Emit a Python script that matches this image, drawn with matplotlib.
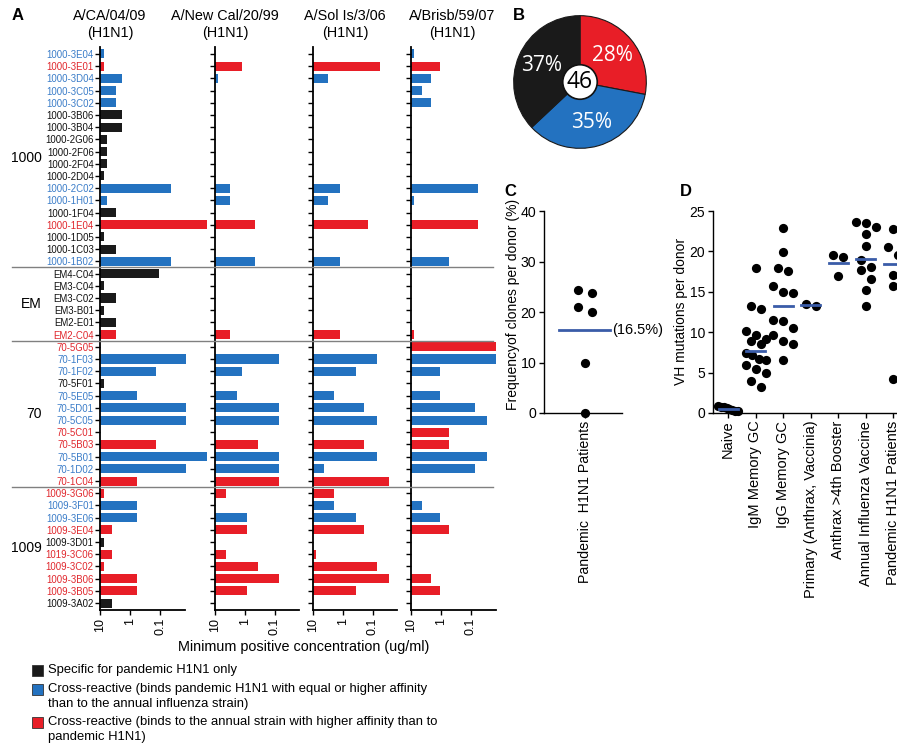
import matplotlib
matplotlib.use('Agg')
import matplotlib.pyplot as plt
import numpy as np
from matplotlib.patches import Rectangle, Circle
from matplotlib.lines import Line2D
from matplotlib.transforms import blended_transform_factory
from matplotlib.ticker import NullLocator

plt.rcParams['font.family'] = ['Liberation Sans', 'DejaVu Sans']

# ---------------- data ----------------
clones = ['1000-3E04', '1000-3E01', '1000-3D04', '1000-3C05', '1000-3C02', '1000-3B06', '1000-3B04',
          '1000-2G06', '1000-2F06', '1000-2F04', '1000-2D04', '1000-2C02', '1000-1H01', '1000-1F04',
          '1000-1E04', '1000-1D05', '1000-1C03', '1000-1B02',
          'EM4-C04', 'EM3-C04', 'EM3-C02', 'EM3-B01', 'EM2-E01', 'EM2-C04',
          '70-5G05', '70-1F03', '70-1F02', '70-5F01', '70-5E05', '70-5D01', '70-5C05', '70-5C01',
          '70-5B03', '70-5B01', '70-1D02', '70-1C04',
          '1009-3G06', '1009-3F01', '1009-3E06', '1009-3E04', '1009-3D01', '1019-3C06', '1009-3C02',
          '1009-3B06', '1009-3B05', '1009-3A02']
clone_class = ['B', 'R', 'B', 'B', 'B', 'K', 'K', 'K', 'K', 'K', 'K', 'B', 'B', 'K', 'R', 'K', 'K', 'B',
               'K', 'K', 'K', 'K', 'K', 'R',
               'R', 'B', 'B', 'K', 'B', 'B', 'B', 'R', 'R', 'B', 'B', 'R',
               'R', 'B', 'B', 'R', 'K', 'R', 'R', 'R', 'R', 'K']
groups = ['1000', 'EM', '70', '1009']
group_sizes = [18, 6, 12, 10]
strains = [('A/CA/04/09', '(H1N1)'), ('A/New Cal/20/99', '(H1N1)'),
           ('A/Sol Is/3/06', '(H1N1)'), ('A/Brisb/59/07', '(H1N1)')]
N = None
conc_ca = [7.4, 7.4, 1.9, 3.0, 3.0, 1.9, 1.9, 5.8, 5.8, 5.8, 7.4, 0.044, 5.8, 3.0, 0.0027, 7.4, 3.0, 0.044,
           0.11, 7.4, 3.0, 7.4, 3.0, 3.0,
           N, 0.0136, 0.139, 7.4, 0.57, 0.0136, 0.0136, N, 0.139, 0.0027, 0.0136, 0.57,
           7.4, 0.57, 0.57, 4.1, 7.4, 4.1, 7.4, 0.57, 0.57, 4.1]
conc_nc = [N, 1.23, 7.8, N, N, N, N, N, N, N, N, 3.1, 3.1, N, 0.46, N, N, 0.46,
           N, N, N, N, N, 3.1,
           N, 0.072, 1.23, N, 1.85, 0.072, 0.072, N, 0.36, 0.072, 0.072, 0.072,
           4.3, N, 0.84, 0.84, N, 4.3, 0.37, 0.072, 0.84, N]
conc_si = [N, 0.057, 3.2, N, N, N, N, N, N, N, N, 1.23, 3.2, N, 0.147, N, N, 1.23,
           N, N, N, N, N, 1.23,
           N, 0.074, 0.37, N, 1.9, 0.19, 0.074, N, 0.19, 0.074, 4.3, 0.028,
           1.9, 1.9, 0.37, 0.19, N, 7.8, 0.074, 0.028, 0.37, N]
conc_br = [7.9, 1.08, 2.2, 4.4, 2.2, N, N, N, N, N, N, 0.060, 7.9, N, 0.060, N, N, 0.54,
           N, N, N, N, N, 7.9,
           0.0147, 0.0147, 1.08, N, 1.08, 0.074, 0.029, 0.54, 0.54, 0.029, 0.074, N,
           N, 4.4, 1.08, 0.54, N, N, N, 2.2, 1.08, N]
conc_all = [conc_ca, conc_nc, conc_si, conc_br]

pie_labels = ['Cross-reactive, annual', 'Cross-reactive, pandemic', 'Specific']
pie_pct = [28, 35, 37]

freq_values = [24.3, 20.0, 23.8, 21.0, 10.0, 0.0]
freq_mean = 16.5
freq_category = 'Pandemic  H1N1 Patients'

vh_categories = ['Naive', 'IgM Memory GC', 'IgG Memory GC', 'Primary (Anthrax, Vaccinia)',
                 'Anthrax >4th Booster', 'Annual Influenza Vaccine', 'Pandemic H1N1 Patients']
vh_naive = [0.9, 0.8, 0.7, 0.6, 0.5, 0.4, 0.3, 0.3]
vh_igm = [18.0, 13.2, 12.9, 10.2, 9.7, 9.1, 8.9, 8.6, 7.4, 7.2, 6.7, 6.5, 5.9, 5.4, 5.0, 3.9, 3.2]
vh_igg = [22.9, 19.9, 18.0, 17.6, 15.7, 15.0, 14.9, 11.5, 11.4, 10.5, 9.6, 8.9, 8.5, 6.6]
vh_primary = [13.3, 13.5]
vh_anthrax = [19.6, 19.3, 17.0]
vh_annual = [23.7, 23.5, 23.0, 22.2, 20.7, 18.9, 18.1, 17.7, 16.6, 15.2, 13.2]
vh_pandemic = [22.8, 20.5, 19.6, 17.1, 15.7, 4.2]
vh_means = [0.5, 7.7, 13.2, 13.4, 18.6, 19.0, 18.4]

legend_texts = [['Specific for pandemic H1N1 only'],
                ['Cross-reactive (binds pandemic H1N1 with equal or higher affinity',
                 'than to the annual influenza strain)'],
                ['Cross-reactive (binds to the annual strain with higher affinity than to',
                 'pandemic H1N1)']]

# ---------------- styling ----------------
BLACK = '#1a1a1a'
BLUE = '#2372c0'
RED = '#e81e27'
MEAN = '#3a5ca8'
bar_col = {'K': BLACK, 'B': BLUE, 'R': RED}
lab_col = {'K': '#111111', 'B': '#3a7cc8', 'R': '#e0262c'}

W, H = 897, 746
fig = plt.figure(figsize=(W / 100, H / 100), dpi=100)


def px_axes(x0, y0, x1, y1):
    return fig.add_axes([x0 / W, 1 - y1 / H, (x1 - x0) / W, (y1 - y0) / H])


def fx(x):
    return x / W


def fy(y):
    return 1 - y / H


# ---------------- Panel A ----------------
DEC = 30.0
panel_x = [100, 214.7, 312.7, 411]
nrow = len(clones)
axes_a = []
for p, x0 in enumerate(panel_x):
    ax = px_axes(x0, 47, x0 + 108, 610)
    ax.set_facecolor('none')
    ax.set_xscale('log')
    ax.set_xlim(10, 10 ** (1 - 108 / DEC))
    ax.set_ylim(nrow - 0.43, -0.57)
    for i, v in enumerate(conc_all[p]):
        if v is None:
            continue
        ax.barh(i, 10 - v, left=v, height=0.74, color=bar_col[clone_class[i]], linewidth=0)
    for s in ['top', 'right']:
        ax.spines[s].set_visible(False)
    ax.spines['left'].set_linewidth(1.3)
    ax.spines['bottom'].set_linewidth(1.3)
    ax.spines['bottom'].set_bounds(10, 10 ** (1 - 84.5 / DEC))
    ax.set_yticks(range(nrow))
    ax.xaxis.set_minor_locator(NullLocator())
    ax.set_xticks([10, 1, 0.1])
    ax.set_xticklabels(['10', '1', '0.1'], rotation=90, fontsize=9)
    ax.tick_params(axis='y', length=3.5, width=1, pad=1)
    ax.tick_params(axis='x', length=3.5, width=1, pad=2)
    if p == 0:
        ax.set_yticklabels(clones, fontsize=6.9)
        for t, c in zip(ax.get_yticklabels(), clone_class):
            t.set_color(lab_col[c])
    else:
        ax.set_yticklabels([])
    axes_a.append(ax)

title_cx = [110, 225, 345, 452]
for (l1, l2), cx in zip(strains, title_cx):
    fig.text(fx(cx), fy(16), l1, ha='center', va='center', fontsize=10.4)
    fig.text(fx(cx), fy(33), l2, ha='center', va='center', fontsize=10.4)

ax1 = axes_a[0]
tr = blended_transform_factory(fig.transFigure, ax1.transData)
start = 0
for g, n in zip(groups, group_sizes):
    ax1.text(fx(42), start + (n - 1) / 2, g, transform=tr, ha='right', va='center', fontsize=10)
    if start + n < nrow:
        fig.add_artist(Line2D([fx(12), fx(493)], [start + n - 0.5] * 2, transform=tr,
                              color='#808080', lw=1.0))
    start += n

fig.text(fx(304), fy(647), 'Minimum positive concentration (ug/ml)', ha='center', va='center',
         fontsize=10.4)

# legend
ly = [670, 689, 722]
for (lines, y, c) in zip(legend_texts, ly, ['K', 'B', 'R']):
    fig.add_artist(Rectangle((fx(32), fy(y + 5.5)), 11 / W, 11 / H, transform=fig.transFigure,
                             facecolor=bar_col[c], edgecolor='#333333', lw=0.6))
    for k, line in enumerate(lines):
        fig.text(fx(48), fy(y + k * 15), line, ha='left', va='center', fontsize=9.4)

fig.text(fx(18), fy(16), 'A', ha='center', va='center', fontsize=12, fontweight='bold')

# ---------------- Panel B ----------------
cxp, cyp, R = 580, 82, 67
axb = px_axes(cxp - R, cyp - R, cxp + R, cyp + R)
wedges, texts, autotexts = axb.pie(pie_pct, colors=[RED, BLUE, BLACK], startangle=90, counterclock=False,
                                   autopct='%d%%', pctdistance=0.63,
                                   wedgeprops=dict(edgecolor='#1a1a1a', linewidth=0.8),
                                   textprops=dict(color='white', fontsize=15, family='Open Sans'))
axb.add_patch(Circle((0, 0), 0.26, facecolor='white', edgecolor='#111111', lw=1.2, zorder=5))
axb.text(0, 0, str(nrow), ha='center', va='center', fontsize=16.5, family='Open Sans', zorder=6)
axb.set_xlim(-1.01, 1.01)
axb.set_ylim(-1.01, 1.01)
axb.set_aspect('equal')
axb.axis('off')
fig.text(fx(519), fy(15), 'B', ha='center', va='center', fontsize=12, fontweight='bold')


# ---------------- swarm helper ----------------
def swarm(vals, px_per_unit, bin_px, step_px, max_half):
    order = sorted(range(len(vals)), key=lambda i: -vals[i])
    bins = []
    for i in order:
        if bins and (vals[bins[-1][0]] - vals[i]) * px_per_unit < bin_px:
            bins[-1].append(i)
        else:
            bins.append([i])
    offs = [0.0] * len(vals)
    for b in bins:
        n = len(b)
        st = step_px if n < 2 else min(step_px, 2 * max_half / (n - 1))
        for k, i in enumerate(b):
            offs[i] = (k - (n - 1) / 2) * st
    return np.array(offs)


# ---------------- Panel C ----------------
c_top, c_bot, c_left, c_right = 211, 413, 544, 622
axc = px_axes(c_left, c_top, c_right, c_bot)
axc.set_ylim(0, 40)
cx_ppu = 40.0
axc.set_xlim(-(585 - c_left) / cx_ppu, (c_right - 585) / cx_ppu)
cy_ppu = (c_bot - c_top) / 40.0
offc = swarm(freq_values, cy_ppu, 9, 13.5, 10) / cx_ppu
axc.scatter(offc, freq_values, s=44, color='black', zorder=5, clip_on=False, linewidths=0)
axc.plot([(559 - 585) / cx_ppu, (610 - 585) / cx_ppu], [freq_mean, freq_mean], color=MEAN, lw=2, zorder=4)
axc.text((612 - 585) / cx_ppu, freq_mean, '(%.1f%%)' % freq_mean, ha='left', va='center', fontsize=10.5)
axc.set_xticks([0])
axc.set_xticklabels([freq_category], rotation=90, fontsize=10.2)
axc.set_yticks([0, 10, 20, 30, 40])
axc.tick_params(labelsize=10.2, length=3.5, width=1, pad=2)
for s in ['top', 'right']:
    axc.spines[s].set_visible(False)
for s in ['left', 'bottom']:
    axc.spines[s].set_linewidth(1.0)
fig.text(fx(513), fy(304), 'Frequencyof clones per donor (%)', rotation=90, ha='center', va='center',
         fontsize=10)
fig.text(fx(510), fy(192), 'C', ha='center', va='center', fontsize=12, fontweight='bold')

# ---------------- Panel D ----------------
d_top, d_bot, d_left = 211, 413, 713
d_cat0, d_sp = 728, 27.5
d_right = 930
axd = px_axes(d_left, d_top, d_right, d_bot)
axd.set_ylim(0, 25)
axd.set_xlim((d_left - d_cat0) / d_sp, (d_right - d_cat0) / d_sp)
dy_ppu = (d_bot - d_top) / 25.0
vh_groups = [vh_naive, vh_igm, vh_igg, vh_primary, vh_anthrax, vh_annual, vh_pandemic]
for k, vals in enumerate(vh_groups):
    offs = swarm(vals, dy_ppu, 9, 10, 10) / d_sp
    axd.scatter(k + offs, vals, s=44, color='black', zorder=5, clip_on=False, linewidths=0)
    axd.plot([k - 0.33, k + 0.36], [vh_means[k]] * 2, color=MEAN, lw=2, zorder=6)
axd.set_xticks(range(len(vh_categories)))
axd.set_xticklabels(vh_categories, rotation=90, fontsize=10.5)
axd.set_yticks([0, 5, 10, 15, 20, 25])
axd.tick_params(axis='y', labelsize=10, length=3.5, width=1, pad=2)
axd.tick_params(axis='x', length=3.5, width=1, pad=2)
for s in ['top', 'right']:
    axd.spines[s].set_visible(False)
for s in ['left', 'bottom']:
    axd.spines[s].set_linewidth(1.0)
fig.text(fx(681), fy(311), 'VH mutations per donor', rotation=90, ha='center', va='center',
         fontsize=10)
fig.text(fx(686), fy(192), 'D', ha='center', va='center', fontsize=12, fontweight='bold')

fig.savefig('out.png', dpi=100)
